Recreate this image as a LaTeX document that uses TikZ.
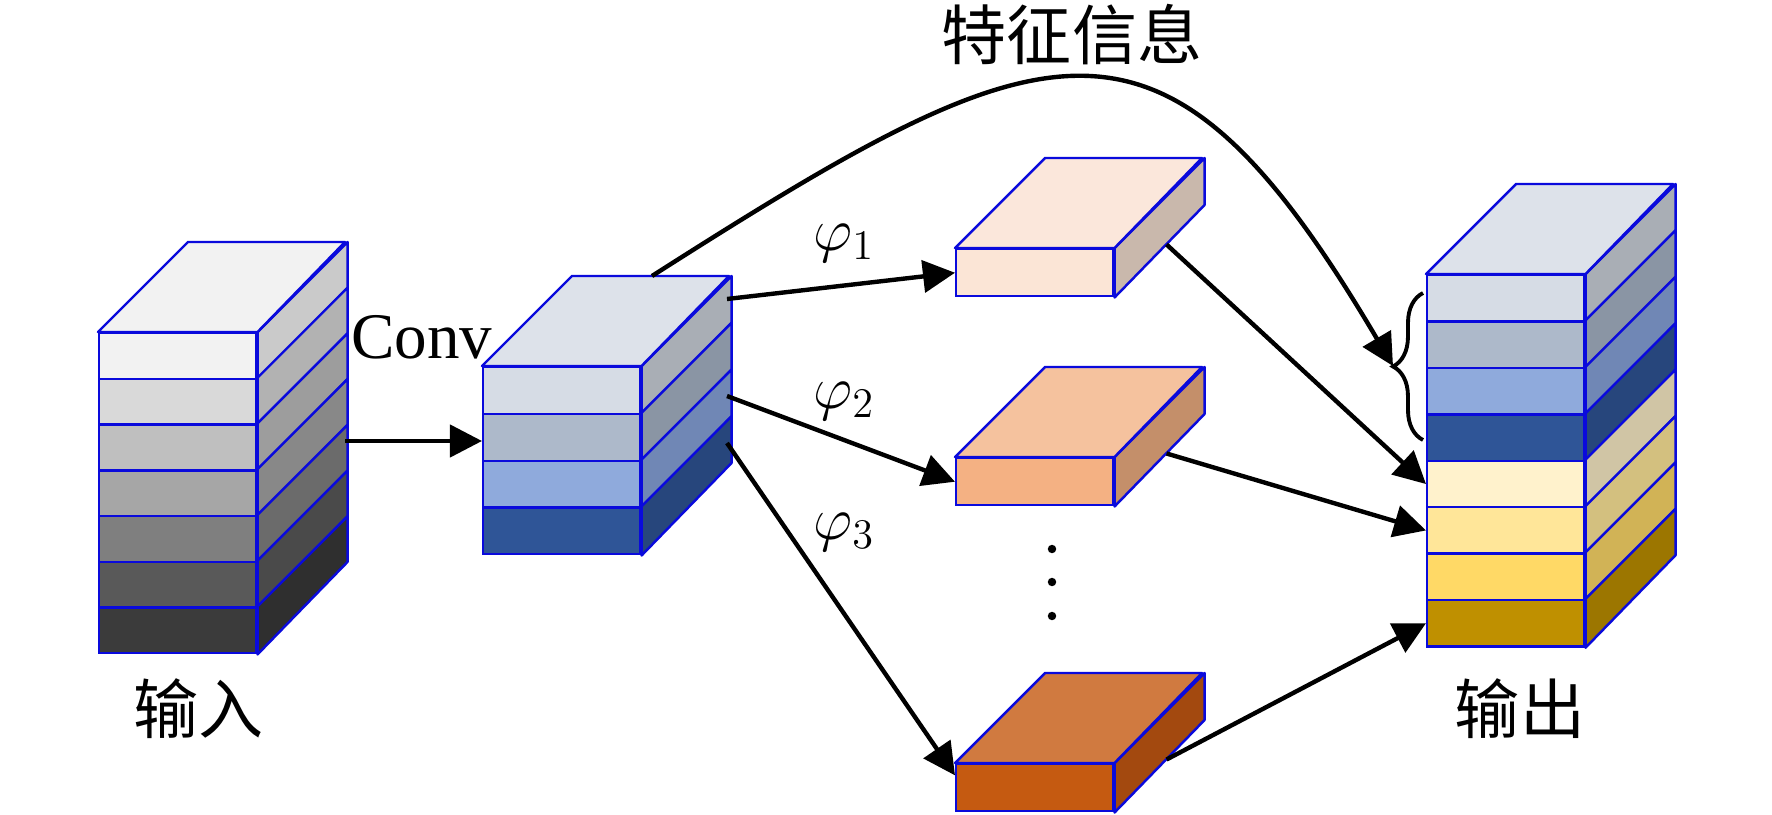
\documentclass[tikz,border=0pt]{standalone}
\usepackage{fontspec}
\setmainfont{Liberation Serif}
\newfontfamily\cjk{Noto Sans CJK SC}
\usepackage{tikz}
\usetikzlibrary{arrows.meta}
\usetikzlibrary{calc}
\usetikzlibrary{decorations.pathreplacing}

\begin{document}
\begin{tikzpicture}[x = 0.01cm, y = -0.01cm]
    \definecolor{my_edge}{HTML}{0A0ADC}
    \definecolor{my_grey1}{HTML}{F2F2F2}
    \definecolor{my_grey2}{HTML}{D9D9D9}
    \definecolor{my_grey3}{HTML}{BFBFBF}
    \definecolor{my_grey4}{HTML}{A6A6A6}
    \definecolor{my_grey5}{HTML}{7F7F7F}
    \definecolor{my_grey6}{HTML}{595959}
    \definecolor{my_grey7}{HTML}{3B3B3B}
    \definecolor{my_greyside1}{HTML}{CACACA}
    \definecolor{my_greyside2}{HTML}{B2B2B2}
    \definecolor{my_greyside3}{HTML}{9D9D9D}
    \definecolor{my_greyside4}{HTML}{888888}
    \definecolor{my_greyside5}{HTML}{6B6B6B}
    \definecolor{my_greyside6}{HTML}{4A4A4A}
    \definecolor{my_greyside7}{HTML}{2F2F2F}
    \definecolor{my_bluetop}{HTML}{DDE2EA}
    \definecolor{my_blue1}{HTML}{D6DCE5}
    \definecolor{my_blue2}{HTML}{ADB9CA}
    \definecolor{my_blue3}{HTML}{8FAADC}
    \definecolor{my_blue4}{HTML}{2F5597}
    \definecolor{my_blueside1}{HTML}{A9AEB5}
    \definecolor{my_blueside2}{HTML}{8A95A4}
    \definecolor{my_blueside3}{HTML}{7087B5}
    \definecolor{my_blueside4}{HTML}{27467C}
    \definecolor{my_gold1}{HTML}{FFF2CC}
    \definecolor{my_gold2}{HTML}{FFE699}
    \definecolor{my_gold3}{HTML}{FFD966}
    \definecolor{my_gold4}{HTML}{BF9000}
    \definecolor{my_goldside1}{HTML}{D0C5A5}
    \definecolor{my_goldside2}{HTML}{D3C07F}
    \definecolor{my_goldside3}{HTML}{D1B356}
    \definecolor{my_goldside4}{HTML}{9C7600}
    \definecolor{my_peach1}{HTML}{FBE5D6}
    \definecolor{my_peachtop1}{HTML}{FBE7DB}
    \definecolor{my_peachside1}{HTML}{C9B8AC}
    \definecolor{my_peach2}{HTML}{F4B183}
    \definecolor{my_peachtop2}{HTML}{F5C29E}
    \definecolor{my_peachside2}{HTML}{C48F6A}
    \definecolor{my_peach3}{HTML}{C55A11}
    \definecolor{my_peachtop3}{HTML}{D07A40}
    \definecolor{my_peachside3}{HTML}{A3490F}
    \tikzstyle{layer}=[draw = my_edge, line width = 0.7pt, anchor = north west,
                       inner sep = 0pt, minimum width = 1.57cm]
    \tikzstyle{face}=[draw = my_edge, line width = 0.7pt, line join = round]
    \tikzstyle{arrow}=[line width = 1.25pt, -{Triangle[length = 0.32cm, width = 0.32cm]}]
    \tikzstyle{txt}=[font = \fontsize{18.5}{20}\selectfont, inner sep = 0pt]

    \fill[white] (0, 0) rectangle (1772, 815);
    \useasboundingbox (0, 0) rectangle (1772, 815);

    % input stack
    \foreach \f/\s [count = \i] in {my_grey1/my_greyside1, my_grey2/my_greyside2,
        my_grey3/my_greyside3, my_grey4/my_greyside4, my_grey5/my_greyside5,
        my_grey6/my_greyside6, my_grey7/my_greyside7} {
        \node[layer, minimum height = 0.457cm, fill = \f] (in\i) at (98, {332 + (\i - 1) * 45.7}) {};
        \filldraw[face, fill = \s] (in\i.north east) -- ++(90, -90) -- ++(0, 45.7) -- (in\i.south east) -- cycle;
    }
    \filldraw[face, fill = my_grey1] (in1.north west) -- ++(90, -90) -- ++(157, 0) -- (in1.north east) -- cycle;

    % conv stack
    \foreach \f/\s [count = \i] in {my_blue1/my_blueside1, my_blue2/my_blueside2,
        my_blue3/my_blueside3, my_blue4/my_blueside4} {
        \node[layer, minimum height = 0.4675cm, fill = \f] (cv\i) at (482, {366 + (\i - 1) * 46.75}) {};
        \filldraw[face, fill = \s] (cv\i.north east) -- ++(90, -90) -- ++(0, 46.75) -- (cv\i.south east) -- cycle;
    }
    \filldraw[face, fill = my_bluetop] (cv1.north west) -- ++(90, -90) -- ++(157, 0) -- (cv1.north east) -- cycle;

    % output stack
    \foreach \f/\s [count = \i] in {my_blue1/my_blueside1, my_blue2/my_blueside2,
        my_blue3/my_blueside3, my_blue4/my_blueside4, my_gold1/my_goldside1,
        my_gold2/my_goldside2, my_gold3/my_goldside3, my_gold4/my_goldside4} {
        \node[layer, minimum height = 0.464cm, fill = \f] (out\i) at (1426, {274 + (\i - 1) * 46.4}) {};
        \filldraw[face, fill = \s] (out\i.north east) -- ++(90, -90) -- ++(0, 46.4) -- (out\i.south east) -- cycle;
    }
    \filldraw[face, fill = my_bluetop] (out1.north west) -- ++(90, -90) -- ++(157, 0) -- (out1.north east) -- cycle;

    % branch boxes
    \foreach \y [count = \i] in {248, 457, 763} {
        \node[layer, minimum height = 0.47cm, fill = my_peach\i] (p\i) at (955, \y) {};
        \filldraw[face, fill = my_peachside\i] (p\i.north east) -- ++(90, -90) -- ++(0, 47) -- (p\i.south east) -- cycle;
        \filldraw[face, fill = my_peachtop\i] (p\i.north west) -- ++(90, -90) -- ++(157, 0) -- (p\i.north east) -- cycle;
    }
    \foreach \y in {549, 582, 616}
        \fill (1052, \y) circle (1.2pt);

    % labels
    \node[txt] (feat) at (1072, 35) {\cjk 特征信息};
    \node[txt] (inlab) at (199, 709) {\cjk 输入};
    \node[txt] (outlab) at (1520, 709) {\cjk 输出};
    \node[txt, anchor = base] (conv) at (422, 358) {Conv};
    \node[txt] (phi1) at (844, 243) {$\varphi_1$};
    \node[txt] (phi2) at (844, 401) {$\varphi_2$};
    \node[txt] (phi3) at (844, 532) {$\varphi_3$};

    % connectors
    \coordinate (in_o) at (345, 441);
    \coordinate (cv_o1) at (727, 299);
    \coordinate (cv_o2) at (727, 396);
    \coordinate (cv_o3) at (727, 443);
    \coordinate (cv_top) at (652, 276);
    \coordinate (br) at (1393, 366);
    \coordinate (p1_o) at ($(p1.south east) + (52, -53)$);
    \coordinate (p2_o) at ($(p2.south east) + (52, -53)$);
    \coordinate (p3_o) at ($(p3.south east) + (52, -53)$);
    \draw[arrow] (in_o) -- (in_o -| cv2.west);
    \draw[arrow] (cv_o1) -- (p1.west);
    \draw[arrow] (cv_o2) -- (p2.west);
    \draw[arrow] (cv_o3) -- ($(p3.north west)!0.25!(p3.south west)$);
    \draw[arrow] (p1_o) -- (out5.west);
    \draw[arrow] (p2_o) -- (out6.west);
    \draw[arrow] (p3_o) -- (out8.west);
    \draw[arrow] (cv_top) .. controls +(400, -255) and +(-230, -390) .. (br);
    \draw[line width = 1.1pt, decorate, decoration = {brace, amplitude = 0.3cm}] (1423, 440) -- (1423, 293);
\end{tikzpicture}
\end{document}
